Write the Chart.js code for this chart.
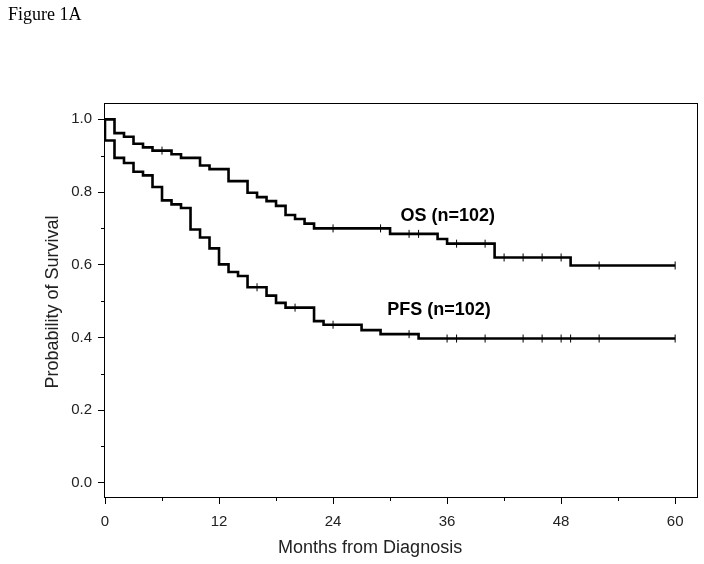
<!DOCTYPE html>
<html>
<head>
<meta charset="utf-8">
<title>Figure 1A</title>
<script src="https://cdn.jsdelivr.net/npm/chart.js@4.4.1/dist/chart.umd.min.js"></script>
<style>
    html, body { margin: 0; padding: 0; background: #fff; }
    #wrap { width: 704px; height: 564px; }
</style>
</head>
<body>
<div id="wrap"><canvas id="kmChart" width="704" height="564"></canvas></div>
<script>
// Kaplan-Meier steps (months, survival probability)
const osTimes = [0, 1, 2, 3, 4, 5, 7, 8, 10, 11, 13, 15, 16, 17, 18, 19, 20, 21, 22, 30, 35, 36, 41, 49, 60];
const osSurv = [1.0, 0.962, 0.952, 0.933, 0.923, 0.914, 0.904, 0.894, 0.873, 0.863, 0.830, 0.798, 0.786, 0.775, 0.762, 0.737, 0.726, 0.713, 0.700, 0.685, 0.671, 0.658, 0.620, 0.598, 0.598];
const osCensored = [6, 24, 29, 32, 33, 37, 40, 42, 44, 46, 48, 52, 60];

const pfsTimes = [0, 0, 1, 2, 3, 4, 5, 6, 7, 8, 9, 10, 11, 12, 13, 14, 15, 17, 18, 19, 22, 23, 27, 29, 33, 60];
const pfsSurv = [1.0, 0.942, 0.894, 0.880, 0.856, 0.846, 0.814, 0.777, 0.766, 0.756, 0.697, 0.675, 0.645, 0.601, 0.580, 0.569, 0.538, 0.515, 0.495, 0.482, 0.445, 0.435, 0.420, 0.409, 0.397, 0.397];
const pfsCensored = [16, 20, 24, 32, 36, 37, 40, 44, 46, 48, 49, 52, 60];

// axis ticks: every value gets a tick mark, only some get a label
const xTickValues = [0, 6, 12, 18, 24, 30, 36, 42, 48, 54, 60];
const xLabelEvery = 12;
const yTickValues = [0, 0.1, 0.2, 0.3, 0.4, 0.5, 0.6, 0.7, 0.8, 0.9, 1.0];

const seriesNames = ['OS (n=102)', 'PFS (n=102)'];

// survival value of a step curve at time t
function stepValueAt(times, values, t) {
    let v = values[0];
    for (let i = 0; i < times.length; i++) {
        if (times[i] <= t) v = values[i];
    }
    return v;
}

function toPoints(xs, ys) {
    return xs.map((x, i) => ({ x: x, y: ys[i] }));
}

function censorPoints(times, values, censored) {
    return censored.map(t => ({ x: t, y: stepValueAt(times, values, t) }));
}

const isMajorX = v => v % xLabelEvery === 0;
const isMajorY = v => Math.round(v * 10) % 2 === 0;

// box, minor ticks and the free text of the figure
const figurePlugin = {
    id: 'figureDecor',
    afterDraw(chart) {
        const { ctx, chartArea: a, scales } = chart;
        const xs = scales.x, ys = scales.y;
        ctx.save();

        // frame round the plot
        ctx.strokeStyle = '#000';
        ctx.lineWidth = 1;
        ctx.strokeRect(Math.round(a.left) - 0.5, Math.round(a.top) + 0.5,
            Math.round(a.right - a.left) + 1, Math.round(a.bottom - a.top));

        // short minor ticks
        ctx.beginPath();
        xTickValues.filter(v => !isMajorX(v)).forEach(v => {
            const px = Math.round(xs.getPixelForValue(v)) + 0.5;
            ctx.moveTo(px, a.bottom);
            ctx.lineTo(px, a.bottom + 4);
        });
        yTickValues.filter(v => !isMajorY(v)).forEach(v => {
            const py = Math.round(ys.getPixelForValue(v)) + 0.5;
            ctx.moveTo(a.left, py);
            ctx.lineTo(a.left - 4, py);
        });
        ctx.stroke();

        ctx.fillStyle = '#000';

        // figure label
        ctx.font = '18px "Liberation Serif", "Times New Roman", serif';
        ctx.textAlign = 'left';
        ctx.textBaseline = 'alphabetic';
        ctx.fillText('Figure 1A', 8, 20);

        // curve labels
        ctx.font = 'bold 18px "Liberation Sans", Arial, sans-serif';
        ctx.fillText(seriesNames[0], xs.getPixelForValue(31.1), ys.getPixelForValue(0.72));
        ctx.fillText(seriesNames[1], xs.getPixelForValue(29.7), ys.getPixelForValue(0.462));

        // axis titles
        ctx.font = '18px "Liberation Sans", Arial, sans-serif';
        ctx.fillStyle = '#222';
        ctx.textAlign = 'center';
        ctx.textBaseline = 'middle';
        ctx.fillText('Months from Diagnosis', xs.getPixelForValue(27.9), 548);

        ctx.translate(53, (a.top + a.bottom) / 2 + 2);
        ctx.rotate(-Math.PI / 2);
        ctx.fillText('Probability of Survival', 0, 0);

        ctx.restore();
    }
};

function buildChart() {
    const ctx = document.getElementById('kmChart').getContext('2d');

    const lineStyle = {
        borderColor: '#000',
        borderWidth: 2.6,
        pointRadius: 0,
        stepped: 'before',
        fill: false
    };
    const censorStyle = {
        type: 'scatter',
        showLine: false,
        pointStyle: 'line',
        rotation: 90,
        pointRadius: 4,
        borderColor: '#000',
        borderWidth: 1
    };

    return new Chart(ctx, {
        type: 'line',
        data: {
            datasets: [
                { label: seriesNames[0], data: toPoints(osTimes, osSurv), ...lineStyle },
                { label: seriesNames[1], data: toPoints(pfsTimes, pfsSurv), ...lineStyle },
                { label: 'OS censored', data: censorPoints(osTimes, osSurv, osCensored), ...censorStyle },
                { label: 'PFS censored', data: censorPoints(pfsTimes, pfsSurv, pfsCensored), ...censorStyle }
            ]
        },
        options: {
            responsive: false,
            animation: false,
            layout: { padding: { top: 103, right: 7, left: 0, bottom: 0 } },
            plugins: {
                legend: { display: false },
                tooltip: { enabled: false }
            },
            scales: {
                x: {
                    type: 'linear',
                    min: 0,
                    max: 62.3,
                    afterBuildTicks: s => { s.ticks = xTickValues.map(v => ({ value: v })); },
                    afterFit: s => { s.height = 67; },
                    border: { display: false },
                    grid: {
                        drawOnChartArea: false,
                        tickLength: 7,
                        tickColor: c => (c.tick && isMajorX(c.tick.value)) ? '#000' : 'rgba(0,0,0,0)'
                    },
                    ticks: {
                        autoSkip: false,
                        maxRotation: 0,
                        padding: 9,
                        color: '#222',
                        font: { family: '"Liberation Sans", Arial, sans-serif', size: 15 },
                        callback: v => isMajorX(v) ? String(v) : ''
                    }
                },
                y: {
                    type: 'linear',
                    min: -0.039,
                    max: 1.045,
                    afterBuildTicks: s => { s.ticks = yTickValues.map(v => ({ value: v })); },
                    afterFit: s => { s.width = 105; },
                    border: { display: false },
                    grid: {
                        drawOnChartArea: false,
                        tickLength: 7,
                        tickColor: c => (c.tick && isMajorY(c.tick.value)) ? '#000' : 'rgba(0,0,0,0)'
                    },
                    ticks: {
                        autoSkip: false,
                        padding: 6,
                        color: '#222',
                        font: { family: '"Liberation Sans", Arial, sans-serif', size: 15 },
                        callback: v => isMajorY(v) ? v.toFixed(1) : ''
                    }
                }
            }
        },
        plugins: [figurePlugin]
    });
}

document.addEventListener('DOMContentLoaded', () => {
    window.kmChart = buildChart();
});
</script>
</body>
</html>
